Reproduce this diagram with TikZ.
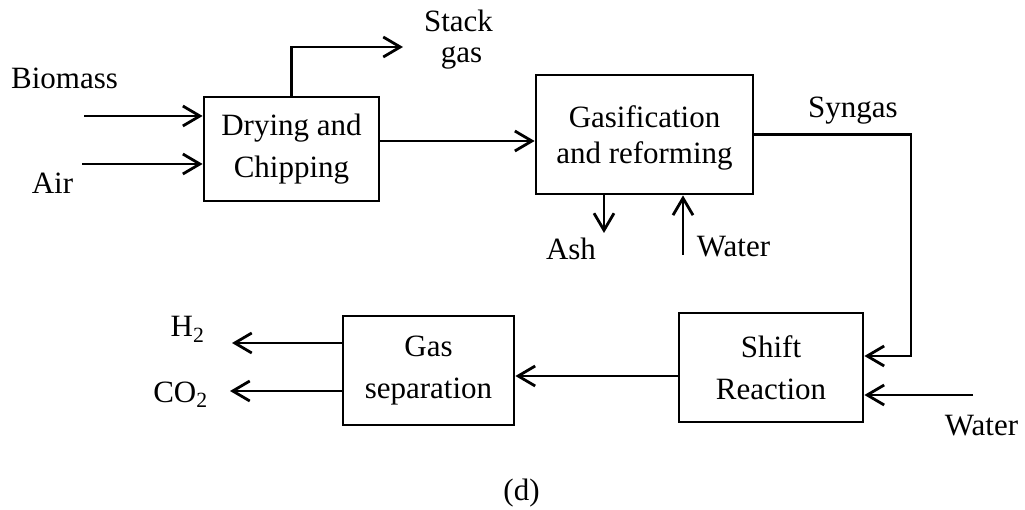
\documentclass[tikz,border=0pt]{standalone}
\usepackage{fontspec}
\setmainfont{Liberation Serif}
\usetikzlibrary{arrows.meta}
\begin{document}
\begin{tikzpicture}[x=1pt,y=-1pt,
  ln/.style={line width=2.8pt},
  arr/.style={ln,-{Straight Barb[length=17pt,width=20pt,line width=2.8pt]}},
  box/.style={draw,line width=2.8pt,align=center,inner sep=0pt,font=\fontsize{31}{42}\selectfont},
  lbl/.style={anchor=base,inner sep=0pt,font=\fontsize{31}{36}\selectfont}]
\useasboundingbox (0,0) rectangle (1025,510);
% boxes
\node[box,minimum width=175pt,minimum height=104pt] (dry) at (291.5,149) {Drying and\\Chipping};
\node[box,minimum width=217pt,minimum height=119pt,font=\fontsize{31}{36}\selectfont] (gas) at (644.5,134.5) {\rule{0pt}{28pt}Gasification\\and reforming};
\node[box,minimum width=184pt,minimum height=109pt] (shift) at (771,367.5) {Shift\\Reaction};
\node[box,minimum width=171pt,minimum height=109pt] (sep) at (428.5,370.5) {Gas\\separation};
% labels
\node[lbl] (tbio) at (64.5,89) {Biomass};
\node[lbl] (tair) at (52.5,194) {Air};
\node[lbl] (tstack) at (458.5,32) {Stack};
\node[lbl] (tgas) at (461.5,63) {gas};
\node[lbl] (tsyn) at (853,118) {Syngas};
\node[lbl] (tash) at (571,260) {Ash};
\node[lbl] (tw1) at (733.5,257) {Water};
\node[lbl] (tw2) at (981.5,435) {Water};
\node[lbl] (th2) at (187.5,337) {H\textsubscript{2}};
\node[lbl] (tco2) at (180.5,402) {CO\textsubscript{2}};
\node[lbl] (tcap) at (521.5,500) {(d)};
% coordinates
\coordinate (bm) at (84,116);
\coordinate (ai) at (82,164);
\coordinate (stk) at (403,47);
\coordinate (l1) at (379,141);
\coordinate (ash) at (604,233);
\coordinate (w1) at (683,255);
\coordinate (sc) at (911,356);
\coordinate (w2) at (973,395);
\coordinate (l2) at (600,376);
\coordinate (h2) at (232,343);
\coordinate (co2) at (230,391);
% connectors
\draw[arr] (bm) -- (bm -| dry.west);
\draw[arr] (ai) -- (ai -| dry.west);
\draw[arr] (dry.north) |- (stk);
\draw[arr] (l1 -| dry.east) -- (l1 -| gas.west);
\draw[arr] (ash |- gas.south) -- (ash);
\draw[arr] (w1) -- (w1 |- gas.south);
\draw[arr] (gas.east) -| (sc) -- (sc -| shift.east);
\draw[arr] (w2) -- (w2 -| shift.east);
\draw[arr] (l2 -| shift.west) -- (l2 -| sep.east);
\draw[arr] (h2 -| sep.west) -- (h2);
\draw[arr] (co2 -| sep.west) -- (co2);
\end{tikzpicture}
\end{document}
